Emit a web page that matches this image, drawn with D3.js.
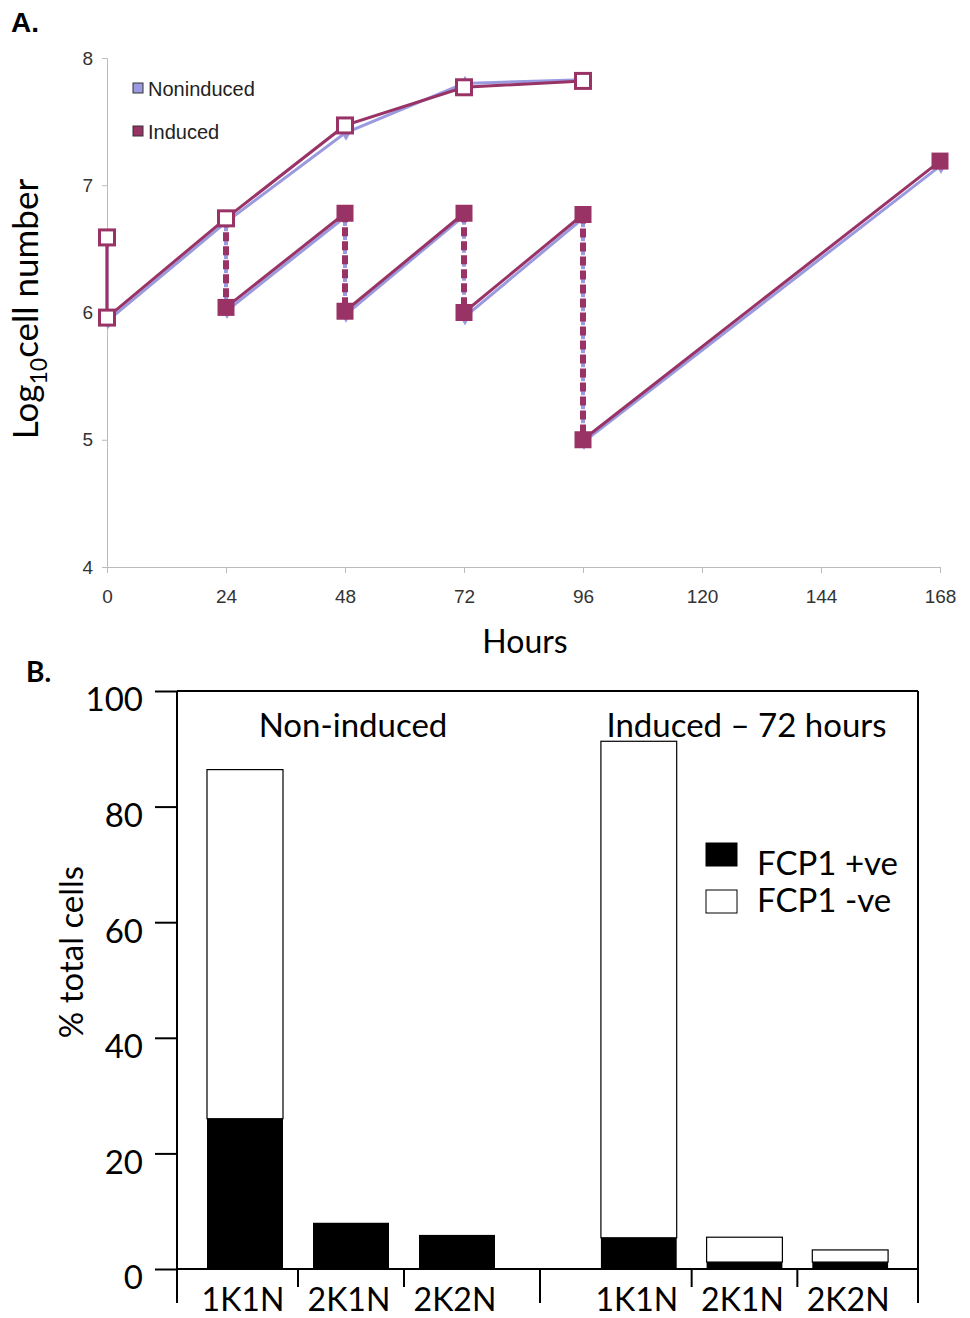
<!DOCTYPE html>
<html>
<head>
<meta charset="utf-8">
<script src="https://cdn.jsdelivr.net/npm/d3@7"></script>
<style>
  body { margin: 0; background: #fff; }
  svg { display: block; }
</style>
</head>
<body>
<div id="chart"></div>
<script>
// ---- Panel A data: log10 cell number over time ----
const xTicksA = [0, 24, 48, 72, 96, 120, 144, 168];
const yTicksA = [4, 5, 6, 7, 8];

// cumulative growth curve (open markers); first point is before the drop at t=0
const cumHours = [0, 0, 24, 48, 72, 96];
const cumInduced = [6.59, 5.96, 6.74, 7.47, 7.77, 7.82];
const cumNoninduced = [6.56, 5.93, 6.71, 7.41, 7.80, 7.83];

// diluted cultures (filled markers): one segment per passage
const passageStart = [24, 48, 72, 96];
const passageEnd = [48, 72, 96, 168];
const dilInducedStart = [6.04, 6.01, 6.00, 5.00];
const dilInducedEnd = [6.78, 6.78, 6.77, 7.19];
const dilNoninducedStart = [6.01, 5.98, 5.96, 4.98];
const dilNoninducedEnd = [6.75, 6.76, 6.74, 7.15];

// ---- Panel B data: % total cells ----
const groups = ['Non-induced', 'Induced \u2013 72 hours'];
const categories = ['1K1N', '2K1N', '2K2N'];
const yTicksB = [0, 20, 40, 60, 80, 100];
const fcpPosNon = [26, 8, 5.9];
const fcpNegNon = [60.4, 0, 0];
const fcpPosInd = [5.4, 1.2, 1.2];
const fcpNegInd = [85.9, 4.3, 2.1];

const width = 970, height = 1318;
const colInd = '#993366';
const colNon = '#9a9ae0';
const fontA = '"Liberation Sans", Arial, sans-serif';
const fontB = 'Lato, "Open Sans", sans-serif';

const svg = d3.select('#chart')
    .append('svg')
    .attr('width', width)
    .attr('height', height);

// ================= Panel A =================
const x = d3.scaleLinear().domain([0, 168]).range([107, 940]);
const y = d3.scaleLinear().domain([4, 8]).range([567, 58]);

svg.append('text')
    .attr('x', 11).attr('y', 32)
    .style('font-family', fontA).style('font-weight', 'bold').style('font-size', '28px')
    .text('A.');

const gA = svg.append('g');

gA.append('g')
    .attr('transform', 'translate(0,' + y(4) + ')')
    .call(d3.axisBottom(x).tickValues(xTicksA).tickSize(6).tickSizeOuter(0).tickPadding(17))
    .call(g => g.selectAll('line, path').attr('stroke', '#bbb'))
    .call(g => g.selectAll('text').style('font-family', fontA).style('font-size', '19px').attr('fill', '#333'));

gA.append('g')
    .attr('transform', 'translate(' + x(0) + ',0)')
    .call(d3.axisLeft(y).tickValues(yTicksA).tickSize(5).tickSizeOuter(0).tickPadding(9).tickFormat(d3.format('d')))
    .call(g => g.selectAll('line, path').attr('stroke', '#bbb'))
    .call(g => g.selectAll('text').style('font-family', fontA).style('font-size', '19px').attr('fill', '#333'));

gA.append('text')
    .attr('x', 525).attr('y', 653)
    .attr('text-anchor', 'middle')
    .style('font-family', fontB).style('font-size', '32px')
    .text('Hours');

const yTitle = gA.append('text')
    .attr('transform', 'translate(38,309) rotate(-90)')
    .attr('text-anchor', 'middle')
    .style('font-family', fontB).style('font-size', '35px');
yTitle.append('tspan').text('Log');
yTitle.append('tspan').attr('dy', 9).style('font-size', '23px').text('10');
yTitle.append('tspan').attr('dy', -9).text('cell number');

// legend A
const legA = [['Noninduced', colNon, 89], ['Induced', colInd, 132]];
legA.forEach(([name, c, ly]) => {
    gA.append('rect').attr('x', 133).attr('y', ly - 6).attr('width', 10).attr('height', 10)
        .attr('fill', c).attr('stroke', '#333').attr('stroke-width', 1);
    gA.append('text').attr('x', 148).attr('y', ly + 7)
        .style('font-family', fontA).style('font-size', '20px').attr('fill', '#222')
        .text(name);
});

const line = d3.line().x(d => x(d[0])).y(d => y(d[1]));

function drawSeries(cum, dStart, dEnd, color, isTop) {
    const g = gA.append('g');
    const cumPts = cumHours.map((h, i) => [h, cum[i]]);
    // value just before each dilution
    const pre = [cum[2], dEnd[0], dEnd[1], dEnd[2]];

    // dashed drops
    passageStart.forEach((h, i) => {
        g.append('path')
            .attr('d', line([[h, pre[i]], [h, dStart[i]]]))
            .attr('stroke', color).attr('stroke-width', isTop ? 6 : 4)
            .attr('stroke-dasharray', '9,5').attr('fill', 'none');
    });
    // cumulative line
    g.append('path').attr('d', line(cumPts))
        .attr('stroke', color).attr('stroke-width', 3).attr('fill', 'none');
    // passage lines
    passageStart.forEach((h, i) => {
        g.append('path').attr('d', line([[h, dStart[i]], [passageEnd[i], dEnd[i]]]))
            .attr('stroke', color).attr('stroke-width', 3).attr('fill', 'none');
    });

    const filledPts = [];
    passageStart.forEach((h, i) => {
        filledPts.push([h, dStart[i]]);
        if (i > 0) filledPts.push([h, pre[i]]);
    });
    filledPts.push([passageEnd[passageEnd.length - 1], dEnd[dEnd.length - 1]]);

    if (isTop) {
        g.selectAll('.open').data(cumPts).enter().append('rect')
            .attr('x', d => x(d[0]) - 7.5).attr('y', d => y(d[1]) - 7.5)
            .attr('width', 15).attr('height', 15)
            .attr('fill', '#fff').attr('stroke', color).attr('stroke-width', 3);
        g.selectAll('.filled').data(filledPts).enter().append('rect')
            .attr('x', d => x(d[0]) - 8.5).attr('y', d => y(d[1]) - 8.5)
            .attr('width', 17).attr('height', 17)
            .attr('fill', color);
    } else {
        const sym = d3.symbol().type(d3.symbolDiamond).size(70);
        g.selectAll('.dia').data(cumPts.concat(filledPts)).enter().append('path')
            .attr('d', sym)
            .attr('transform', d => 'translate(' + (x(d[0]) + 1) + ',' + y(d[1]) + ')')
            .attr('fill', color);
    }
}

drawSeries(cumNoninduced, dilNoninducedStart, dilNoninducedEnd, colNon, false);
drawSeries(cumInduced, dilInducedStart, dilInducedEnd, colInd, true);

// ================= Panel B =================
const yB = d3.scaleLinear().domain([0, 100]).range([1269, 691]);
const xNon = d3.scaleBand().domain(categories).range([177, 525]).padding(0.283);
const xInd = d3.scaleBand().domain(categories).range([571, 918]).padding(0.283);
const left = 177, right = 918, sep = 540;

svg.append('text')
    .attr('x', 26).attr('y', 682)
    .style('font-family', fontB).style('font-weight', 'bold').style('font-size', '28px')
    .text('B.');

const gB = svg.append('g');

gB.append('g')
    .attr('transform', 'translate(' + left + ',0)')
    .call(d3.axisLeft(yB).tickValues(yTicksB).tickSize(22).tickSizeOuter(0).tickPadding(12))
    .call(g => g.select('.domain').remove())
    .call(g => g.selectAll('line').attr('stroke', '#000').attr('stroke-width', 2))
    .call(g => g.selectAll('text').attr('dy', '0.6em')
        .style('font-family', fontB).style('font-size', '33px').attr('fill', '#000'));

// frame
const frame = gB.append('g').attr('stroke', '#000').attr('stroke-width', 2).attr('fill', 'none');
frame.append('line').attr('x1', left).attr('x2', right).attr('y1', yB(100)).attr('y2', yB(100));
frame.append('line').attr('x1', left).attr('x2', right).attr('y1', yB(0)).attr('y2', yB(0));
frame.append('line').attr('x1', left).attr('x2', left).attr('y1', yB(100)).attr('y2', 1303);
frame.append('line').attr('x1', right).attr('x2', right).attr('y1', yB(100)).attr('y2', 1303);
frame.append('line').attr('x1', sep).attr('x2', sep).attr('y1', yB(0)).attr('y2', 1303);

function drawGroup(xs, pos, neg, title) {
    const step = xs.step();
    // category separators
    categories.slice(1).forEach(c => {
        const tx = xs(c) - (step - xs.bandwidth()) / 2;
        gB.append('line').attr('x1', tx).attr('x2', tx)
            .attr('y1', yB(0)).attr('y2', 1287)
            .attr('stroke', '#000').attr('stroke-width', 2);
    });
    const rows = categories.map((c, i) => ({ c: c, pos: pos[i], neg: neg[i] }));
    gB.selectAll(null).data(rows.filter(d => d.neg > 0)).enter().append('rect')
        .attr('x', d => xs(d.c)).attr('width', xs.bandwidth())
        .attr('y', d => yB(d.pos + d.neg)).attr('height', d => yB(d.pos) - yB(d.pos + d.neg))
        .attr('fill', '#fff').attr('stroke', '#000').attr('stroke-width', 1.2);
    gB.selectAll(null).data(rows).enter().append('rect')
        .attr('x', d => xs(d.c)).attr('width', xs.bandwidth())
        .attr('y', d => yB(d.pos)).attr('height', d => yB(0) - yB(d.pos))
        .attr('fill', '#000');
    gB.selectAll(null).data(rows).enter().append('text')
        .attr('x', d => xs(d.c) + xs.bandwidth() / 2 - 2).attr('y', 1311)
        .attr('text-anchor', 'middle')
        .style('font-family', fontB).style('font-size', '32px')
        .text(d => d.c);
    const r = xs.range();
    gB.append('text')
        .attr('x', (r[0] + r[1]) / 2 + 2).attr('y', 737)
        .attr('text-anchor', 'middle')
        .style('font-family', fontB).style('font-size', '33px')
        .text(title);
}

drawGroup(xNon, fcpPosNon, fcpNegNon, groups[0]);
drawGroup(xInd, fcpPosInd, fcpNegInd, groups[1]);

// legend B
const legB = [['FCP1 +ve', '#000', 843, 875], ['FCP1 -ve', '#fff', 890, 912]];
legB.forEach(([name, c, ry, ty]) => {
    gB.append('rect').attr('x', 706).attr('y', ry).attr('width', 31).attr('height', 23)
        .attr('fill', c).attr('stroke', '#000').attr('stroke-width', 1);
    gB.append('text').attr('x', 757).attr('y', ty)
        .style('font-family', fontB).style('font-size', '33px')
        .text(name);
});

gB.append('text')
    .attr('transform', 'translate(83,952) rotate(-90)')
    .attr('text-anchor', 'middle')
    .style('font-family', fontB).style('font-size', '33px')
    .text('% total cells');
</script>
</body>
</html>
